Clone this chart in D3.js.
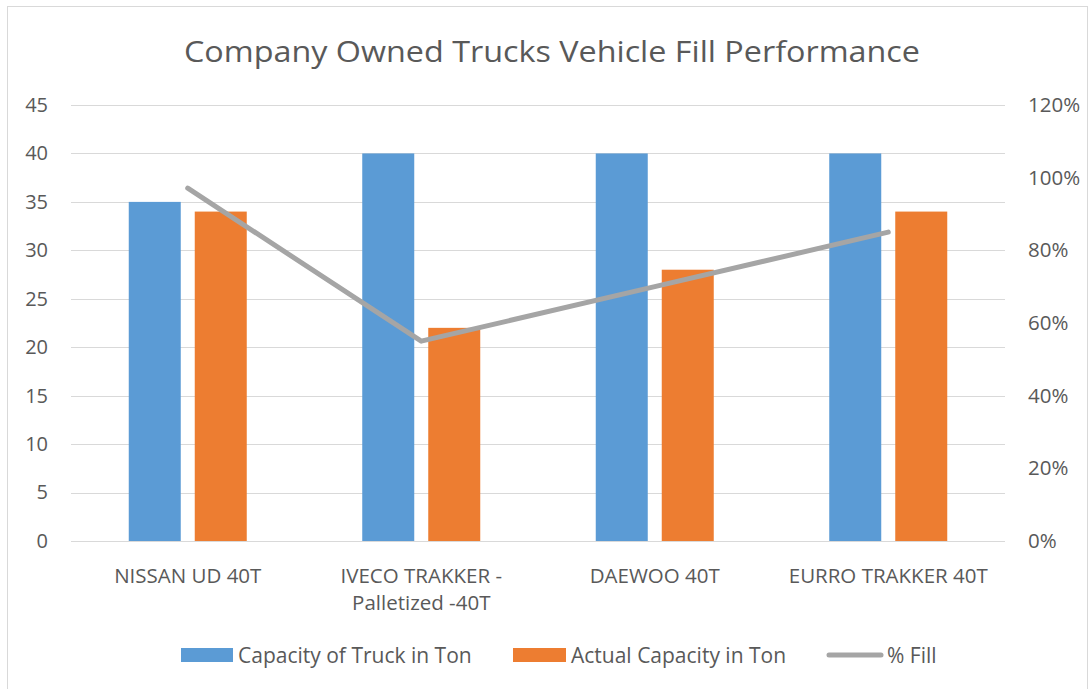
<!DOCTYPE html>
<html>
<head>
<meta charset="utf-8">
<script src="https://cdn.jsdelivr.net/npm/d3@7"></script>
<style>
  body { margin: 0; background: #fff; }
  text { font-family: "Open Sans", "Noto Sans", sans-serif; fill: #595959; }
</style>
</head>
<body>
<svg id="chart" width="1088" height="689"></svg>
<script>
// chart data
const categories = [["NISSAN UD 40T"], ["IVECO TRAKKER -", "Palletized -40T"], ["DAEWOO 40T"], ["EURRO TRAKKER 40T"]];
const capacity = [35, 40, 40, 40];
const actual = [34, 22, 28, 34];
const fillPct = [0.971, 0.55, 0.70, 0.85];
const leftTicks = [0, 5, 10, 15, 20, 25, 30, 35, 40, 45];
const rightTicks = [0, 0.2, 0.4, 0.6, 0.8, 1.0, 1.2];
const seriesNames = ["Capacity of Truck in Ton", "Actual Capacity in Ton", "% Fill"];
const colors = ["#5B9BD5", "#ED7D31", "#A5A5A5"];

const svg = d3.select('#chart');
const margin = { left: 71, right: 83, top: 105, bottom: 148 };
const W = 1088, H = 689;

// outer border
svg.append('rect')
  .attr('x', 7.5).attr('y', 6.5)
  .attr('width', W - 8).attr('height', H)
  .attr('fill', 'none').attr('stroke', '#D9D9D9');

const x = d3.scaleBand()
  .domain(d3.range(categories.length))
  .range([margin.left, W - margin.right]);

const yL = d3.scaleLinear().domain([0, 45]).range([H - margin.bottom, margin.top]);
const yR = d3.scaleLinear().domain([0, 1.2]).range([H - margin.bottom, margin.top]);

// title
svg.append('text')
  .attr('x', 552).attr('y', 62)
  .attr('text-anchor', 'middle')
  .attr('font-size', 30)
  .attr('textLength', 736).attr('lengthAdjust', 'spacingAndGlyphs')
  .text('Company Owned Trucks Vehicle Fill Performance');

// gridlines
svg.append('g')
  .selectAll('line')
  .data(leftTicks)
  .join('line')
  .attr('x1', margin.left).attr('x2', W - margin.right)
  .attr('y1', d => Math.round(yL(d)) + 0.5).attr('y2', d => Math.round(yL(d)) + 0.5)
  .attr('stroke', '#D9D9D9').attr('stroke-width', 1);

// left axis
const axL = svg.append('g')
  .attr('transform', `translate(${margin.left},0)`)
  .call(d3.axisLeft(yL).tickValues(leftTicks).tickSize(0).tickPadding(23));
axL.select('.domain').remove();
axL.selectAll('text').attr('font-size', 20).style('fill', '#595959').attr('font-family', '"Open Sans", sans-serif');

// right axis
const axR = svg.append('g')
  .attr('transform', `translate(${W - margin.right},0)`)
  .call(d3.axisRight(yR).tickValues(rightTicks).tickFormat(d3.format('.0%')).tickSize(0).tickPadding(23));
axR.select('.domain').remove();
axR.selectAll('text').attr('font-size', 20.5).style('fill', '#595959').attr('font-family', '"Open Sans", sans-serif');

// bars
const barW = 52, gap = 14;
const sub = d3.scaleOrdinal().domain([0, 1]).range([-(gap / 2 + barW), gap / 2]);
[capacity, actual].forEach((series, s) => {
  svg.append('g')
    .selectAll('rect')
    .data(series)
    .join('rect')
    .attr('x', (d, i) => x(i) + x.bandwidth() / 2 + sub(s))
    .attr('y', d => yL(d))
    .attr('width', barW)
    .attr('height', d => yL(0) - yL(d))
    .attr('fill', colors[s]);
});

// line
const line = d3.line()
  .x((d, i) => x(i) + x.bandwidth() / 2)
  .y(d => yR(d));
svg.append('path')
  .datum(fillPct)
  .attr('d', line)
  .attr('fill', 'none')
  .attr('stroke', colors[2])
  .attr('stroke-width', 5)
  .attr('stroke-linecap', 'round')
  .attr('stroke-linejoin', 'round');

// category labels
const cat = svg.append('g')
  .selectAll('text')
  .data(categories)
  .join('text')
  .attr('text-anchor', 'middle')
  .attr('font-size', 20.5)
  .attr('transform', (d, i) => `translate(${x(i) + x.bandwidth() / 2},583)`);
cat.selectAll('tspan')
  .data(d => d)
  .join('tspan')
  .attr('x', 0)
  .attr('dy', (d, j) => j === 0 ? 0 : 27)
  .text(d => d);

// legend
const legend = [
  { x: 181, w: 52, tx: 238 },
  { x: 513, w: 53, tx: 571 },
  { x: 827, w: 56, tx: 887 }
];
legend.forEach((l, i) => {
  if (i < 2) {
    svg.append('rect').attr('x', l.x).attr('y', 648).attr('width', l.w).attr('height', 14).attr('fill', colors[i]);
  } else {
    svg.append('line').attr('x1', l.x + 2).attr('x2', l.x + l.w - 2).attr('y1', 655).attr('y2', 655)
      .attr('stroke', colors[2]).attr('stroke-width', 5).attr('stroke-linecap', 'round');
  }
  svg.append('text').attr('x', l.tx).attr('y', 663).attr('font-size', 21).text(seriesNames[i]);
});
</script>
</body>
</html>
